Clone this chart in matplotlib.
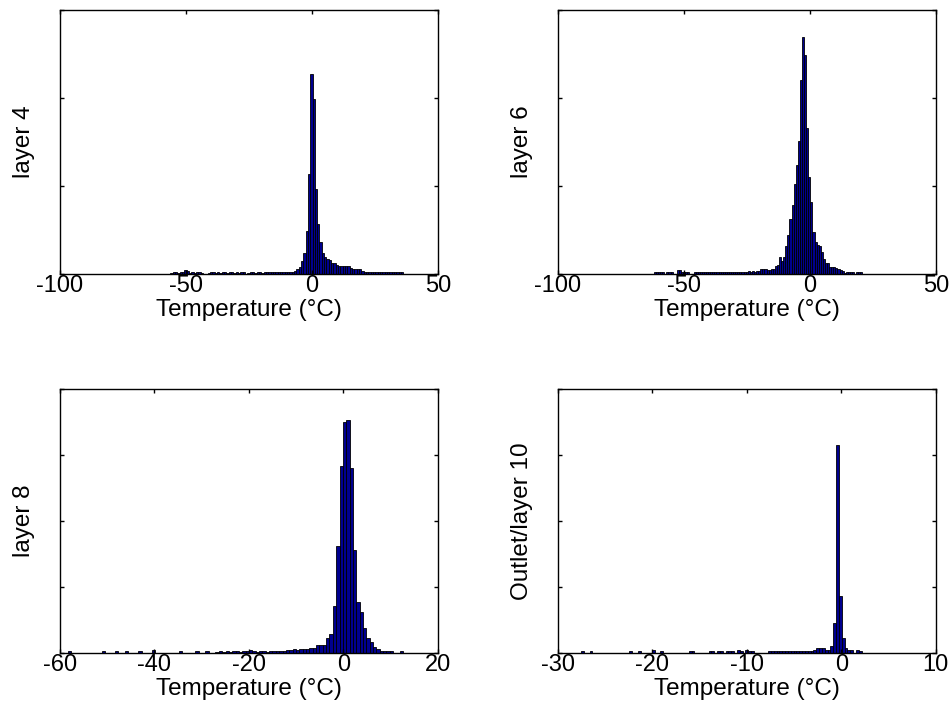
import numpy as np
import matplotlib
matplotlib.use("Agg")
import matplotlib.pyplot as plt

plt.rcParams['font.family'] = ['Liberation Sans', 'DejaVu Sans']

# histogram counts per bin (100 bins each)
layer4_range = (-56.2, 36.3)
layer4 = [15, 20, 20, 15, 20, 20, 45, 30, 15, 20,
          15, 20, 20, 15, 0, 0, 15, 20, 20, 15,
          20, 15, 20, 20, 15, 20, 20, 15, 20, 15,
          20, 20, 0, 15, 20, 20, 15, 20, 20, 15,
          20, 20, 25, 20, 25, 20, 20, 25, 20, 25,
          25, 20, 25, 34, 53, 83, 147, 241, 487, 1140,
          2272, 1981, 959, 562, 366, 234, 196, 166, 158, 121,
          121, 106, 94, 94, 94, 94, 94, 64, 53, 53,
          53, 53, 34, 23, 23, 23, 20, 23, 23, 20,
          23, 23, 20, 23, 23, 20, 23, 20, 23, 20]

layer6_range = (-61.9, 20.9)
layer6 = [26, 26, 26, 26, 26, 0, 26, 26, 26, 0,
          0, 45, 45, 26, 26, 26, 26, 0, 0, 26,
          26, 26, 26, 20, 26, 26, 26, 26, 20, 26,
          26, 26, 26, 20, 26, 26, 26, 26, 26, 20,
          26, 26, 26, 26, 26, 30, 26, 30, 26, 30,
          30, 53, 53, 53, 45, 45, 53, 60, 91, 102,
          189, 147, 189, 317, 441, 619, 781, 1026, 1234, 1506,
          2204, 2687, 2479, 1660, 1102, 819, 479, 366, 328, 317,
          253, 166, 128, 121, 83, 75, 75, 68, 57, 45,
          30, 15, 26, 26, 26, 26, 0, 26, 26, 26]

layer8_range = (-58.3, 12.65)
layer8 = [30, 0, 0, 0, 0, 0, 0, 0, 0, 0,
          30, 0, 0, 0, 30, 0, 0, 30, 0, 0,
          0, 30, 0, 0, 0, 45, 0, 0, 0, 0,
          0, 0, 0, 30, 0, 0, 0, 0, 30, 0,
          0, 30, 0, 0, 20, 25, 20, 25, 20, 25,
          25, 20, 25, 25, 45, 25, 20, 25, 25, 20,
          25, 25, 30, 25, 30, 50, 50, 55, 50, 55,
          55, 55, 80, 80, 120, 125, 120, 222, 288, 712,
          1621, 2833, 3505, 3530, 2808, 1561, 768, 626, 374, 222,
          162, 96, 56, 35, 35, 30, 30, 0, 0, 30]

layer10_range = (-27.85, 2.15)
layer10 = [0, 30, 0, 0, 30, 0, 0, 0, 0, 0,
           0, 0, 0, 0, 0, 0, 0, 0, 30, 0,
           0, 30, 0, 0, 0, 0, 45, 0, 0, 30,
           0, 0, 0, 0, 0, 0, 0, 0, 0, 30,
           30, 0, 0, 0, 0, 0, 30, 30, 0, 30,
           30, 0, 30, 30, 30, 0, 40, 30, 0, 45,
           30, 30, 0, 0, 0, 0, 0, 30, 30, 30,
           30, 30, 30, 30, 30, 30, 30, 30, 30, 30,
           30, 30, 30, 45, 80, 80, 70, 45, 45, 105,
           450, 3152, 868, 223, 71, 45, 45, 0, 45, 30]

panels = [
    ("layer 4", layer4, layer4_range, (-100, 50), [-100, -50, 0, 50], 3000),
    ("layer 6", layer6, layer6_range, (-100, 50), [-100, -50, 0, 50], 3000),
    ("layer 8", layer8, layer8_range, (-60, 20), [-60, -40, -20, 0, 20], 4000),
    ("Outlet/layer 10", layer10, layer10_range, (-30, 10), [-30, -20, -10, 0, 10], 4000),
]

positions = [
    [0.063, 0.6236, 0.397, 0.3633],
    [0.586, 0.6236, 0.397, 0.3633],
    [0.063, 0.103, 0.397, 0.3626],
    [0.586, 0.103, 0.397, 0.3626],
]

fig = plt.figure(figsize=(9.52, 7.28), dpi=100)

for (name, counts, rng, xlim, xticks, ytop), pos in zip(panels, positions):
    ax = fig.add_axes(pos)
    edges = np.linspace(rng[0], rng[1], len(counts) + 1)
    ax.bar(edges[:-1], counts, width=np.diff(edges), align='edge',
           color=(0, 0, 0.56), edgecolor='black', linewidth=0.6)
    ax.set_xlim(*xlim)
    ax.set_ylim(0, ytop)
    ax.set_xticks(xticks)
    ax.set_xticklabels([str(t) for t in xticks])
    ax.set_yticks(np.arange(0, ytop + 1, 1000))
    ax.tick_params(direction='in', top=True, right=True, length=3,
                   width=1, labelsize=17, labelleft=False, pad=1)
    for sp in ax.spines.values():
        sp.set_linewidth(1.0)
    ax.set_xlabel("Temperature (°C)", fontsize=17.5, labelpad=1)
    ax.set_ylabel(name, fontsize=17.5, labelpad=18)

fig.savefig("out.png", dpi=100)
